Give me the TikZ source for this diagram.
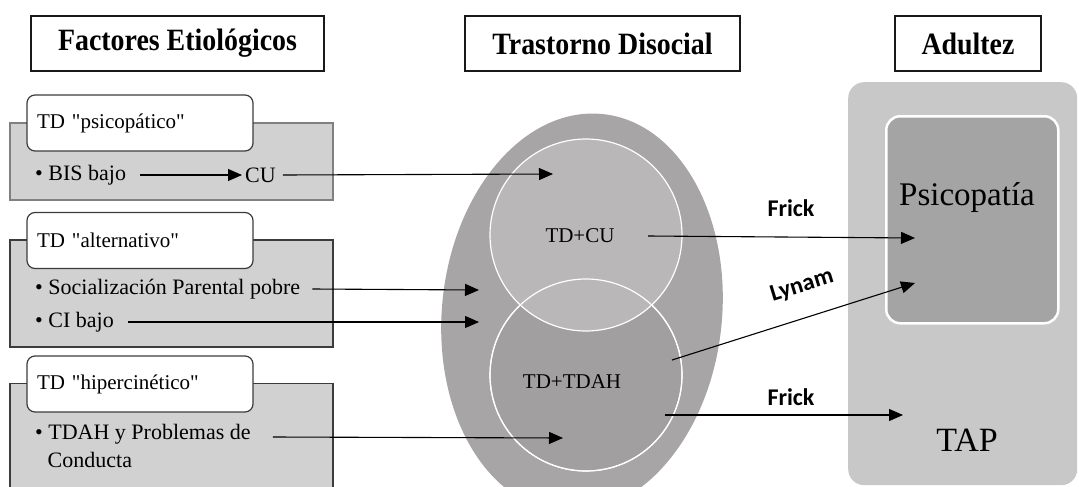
\documentclass[tikz,border=0pt]{standalone}
\usepackage{fontspec}
\setmainfont{Liberation Serif}[Ligatures=TeXOff]
\newfontfamily\headfont[FakeStretch=0.9]{Liberation Serif}
\newfontfamily\authfont{Carlito}
\usepackage{xcolor}
\usetikzlibrary{positioning,arrows.meta,shapes.geometric,calc}

\definecolor{panelgray}{HTML}{D1D1D1}
\definecolor{egggray}{HTML}{A7A5A6}
\definecolor{cugray}{HTML}{B9B7B8}
\definecolor{adhdgray}{HTML}{A19FA0}
\definecolor{adultgray}{HTML}{C9C8C8}
\definecolor{psigray}{HTML}{A5A4A4}
\definecolor{edgegray}{HTML}{3C3C3C}

\tikzset{
  header/.style={draw=black!90, line width=1.8pt, fill=white, minimum height=55pt,
    inner sep=0pt, font=\headfont\bfseries\fontsize{31}{33}\selectfont},
  panel/.style={draw=edgegray, line width=1.2pt, fill=panelgray, minimum width=323pt, inner sep=0pt},
  paneltitle/.style={draw=edgegray, line width=1.2pt, fill=white, rounded corners=8pt,
    minimum height=56pt, text width=206pt, align=left, inner xsep=10pt,
    font=\fontsize{21}{23}\selectfont},
  item/.style={inner sep=0pt, anchor=west, font=\fontsize{22}{24}\selectfont},
  link/.style={line width=1.1pt, -{Triangle[length=14pt,width=12pt]}},
  author/.style={font=\authfont\bfseries\fontsize{24}{26}\selectfont},
}

\begin{document}
\begin{tikzpicture}[x=1pt,y=-1pt]
  \useasboundingbox (0,0) rectangle (1079,487);
  \clip (0,0) rectangle (1079,487);

  \node[header, minimum width=293pt] (etio) at (177.5,43.5) {Factores Etiológicos};
  \node[header, minimum width=275pt] (disoc) at (602.5,43.5) {Trastorno Disocial};
  \node[header, minimum width=146pt] (adult) at (968,43.5) {Adultez};

  % left column
  \node[panel, draw=gray, minimum height=77pt] (psyp) at (171.5,161.5) {};
  \node[paneltitle] (psyt) at (140,123) {TD "psicopático"};
  \node[item] (bis) at (35,175) {• BIS bajo};
  \node[item] (cu) at (245,175) {CU};

  \node[panel, minimum height=107pt] (altp) at (171.5,293.5) {};
  \node[paneltitle] (altt) at (140,240.5) {TD "alternativo"};
  \node[item] (soc) at (35,289) {• Socialización Parental pobre};
  \node[item] (ci) at (35,322) {• CI bajo};

  \node[panel, minimum height=120pt, anchor=north] (hipp) at (171.5,383) {};
  \node[paneltitle] (hipt) at (140,384) {TD "hipercinético"};
  \node[item] (tdah) at (35,434) {• TDAH y Problemas de};
  \node[item] (cond) at (47.5,460) {Conducta};

  % centre
  \node[ellipse, fill=egggray, minimum width=280pt, minimum height=400pt,
    rotate=-6, inner sep=0pt] (egg) at (582,313) {};
  \node[circle, fill=adhdgray, draw=white, line width=1.2pt, minimum size=192pt,
    inner sep=0pt] (adhd) at (586,375) {};
  \node[circle, fill=cugray, draw=white, line width=1.2pt, minimum size=192pt,
    inner sep=0pt] (cuc) at (586,235) {};
  \draw[white, line width=1.2pt] (adhd.center) circle[radius=96pt];
  \node[font=\fontsize{21}{23}\selectfont] (tdcu) at (580,236) {TD+CU};
  \node[font=\fontsize{21}{23}\selectfont] (tdadhd) at (572,382) {TD+TDAH};

  % right column
  \node[fill=adultgray, rounded corners=16pt, minimum width=229pt, minimum height=403pt,
    anchor=north west, inner sep=0pt] (adultbox) at (848,82) {};
  \node[fill=psigray, draw=white, line width=2.5pt, rounded corners=14pt,
    minimum width=172pt, minimum height=207pt, anchor=north west, inner sep=0pt] (psibox) at (885,115) {};
  \node[font=\fontsize{33}{35}\selectfont] (psi) at (967,198) {Psicopatía};
  \node[font=\fontsize{34}{36}\selectfont] (tap) at (967,440) {TAP};

  \coordinate (cuin) at (553,174);
  \coordinate (socin) at (479,290);
  \coordinate (ciin) at (479,322);
  \coordinate (tdahin) at (563,438);
  \coordinate (psiin) at (915,238);
  \coordinate (lynin) at (915,283);
  \coordinate (tapin) at (903,415);
  \coordinate (lynout) at (672,360);
  \coordinate (tapout) at (665,415);

  \draw[link, shorten >=3pt] ([xshift=14pt]bis.east) -- (cu.west);
  \draw[link] ([xshift=7pt]cu.east) -- (cuin);
  \draw[link] ([xshift=12pt]soc.east) -- (socin);
  \draw[link] ([xshift=14pt]ci.east) -- (ciin);
  \draw[link] ([xshift=22pt,yshift=-3pt]tdah.east) -- (tdahin);
  \draw[link] ([xshift=30pt]tdcu.east) -- (psiin);
  \draw[link] (lynout) -- (lynin);
  \draw[link] (tapout) -- (tapin);

  \node[author] (frick1) at (791,208) {Frick};
  \node[author, rotate=17] (lynam) at (802,286) {Lynam};
  \node[author] (frick2) at (791,397) {Frick};
\end{tikzpicture}
\end{document}
